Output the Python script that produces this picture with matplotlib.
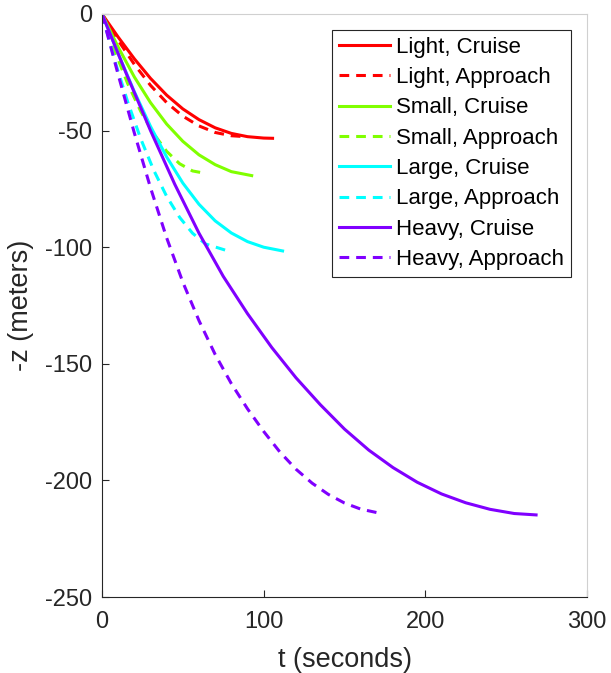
import matplotlib
matplotlib.use("Agg")
import matplotlib.pyplot as plt

plt.rcParams['font.family'] = ['Liberation Sans', 'DejaVu Sans']
plt.rcParams['lines.scale_dashes'] = False
plt.rcParams['axes.unicode_minus'] = False

# values, t in seconds, -z in meters
light_cruise_t = [0, 10, 20, 30, 40, 50, 60, 70, 80, 90, 100, 105.5]
light_cruise_z = [0, -9.9, -19.2, -27.6, -34.8, -40.7, -45.3, -48.8, -51.2, -52.6, -53.2, -53.3]
light_appr_t = [0, 10, 20, 30, 40, 50, 60, 70, 80, 86.5]
light_appr_z = [0, -11.3, -21.6, -30.6, -38, -43.8, -48, -50.8, -52.2, -52.5]

small_cruise_t = [0, 10, 20, 30, 40, 50, 60, 70, 80, 92.6]
small_cruise_z = [0, -14.2, -27, -38, -47.2, -54.6, -60.4, -64.6, -67.6, -69.3]
small_appr_t = [0, 8, 16, 24, 32, 40, 48, 56, 63.7]
small_appr_z = [0, -16.1, -30, -41.8, -51.4, -58.9, -64.2, -67.3, -68.3]

large_cruise_t = [0, 10, 20, 30, 40, 50, 60, 70, 80, 90, 100, 111.7]
large_cruise_z = [0, -17, -33.3, -48.2, -61.3, -72.5, -81.6, -88.7, -93.9, -97.6, -100, -101.6]
large_appr_t = [0, 8, 16, 24, 32, 40, 48, 56, 64, 76.5]
large_appr_z = [0, -20.2, -37.9, -53.6, -67, -78.2, -87.2, -94, -98.6, -101.3]

heavy_cruise_t = [0, 15, 30, 45, 60, 75, 90, 105, 120, 135, 150, 165, 180, 195, 210, 225, 240, 255, 268.5]
heavy_cruise_z = [0, -25.5, -50, -73, -94, -112.5, -128.5, -143, -156, -167.5, -178, -187, -194.5,
                  -200.8, -205.8, -209.6, -212.4, -214.2, -214.8]
heavy_appr_t = [0, 10, 20, 30, 40, 50, 60, 70, 80, 90, 100, 110, 120, 130, 140, 150, 160, 170]
heavy_appr_z = [0, -26, -51, -74.5, -96, -115, -131.5, -146, -158.5, -169.3, -179, -187.8, -195.2,
                -201.2, -206, -209.7, -212.3, -213.8]

names = ["Light", "Small", "Large", "Heavy"]
colors = [(1, 0, 0), (0.5, 1, 0), (0, 1, 1), (0.5, 0, 1)]
cruise = [(light_cruise_t, light_cruise_z), (small_cruise_t, small_cruise_z),
          (large_cruise_t, large_cruise_z), (heavy_cruise_t, heavy_cruise_z)]
approach = [(light_appr_t, light_appr_z), (small_appr_t, small_appr_z),
            (large_appr_t, large_appr_z), (heavy_appr_t, heavy_appr_z)]

fig = plt.figure(figsize=(6.11, 6.73), dpi=100)
ax = fig.add_axes([102 / 611, 1 - 597 / 673, 485 / 611, 583 / 673])

for name, col, cr, ap in zip(names, colors, cruise, approach):
    ax.plot(cr[0], cr[1], color=col, lw=2.2, label=name + ", Cruise")
    ax.plot(ap[0], ap[1], color=col, lw=2.2, dashes=(7, 5), label=name + ", Approach")

ax.set_xlim(0, 300)
ax.set_ylim(-250, 0)
ax.set_xticks([0, 100, 200, 300])
ax.set_yticks([-250, -200, -150, -100, -50, 0])
ax.tick_params(direction='in', length=5, width=0.8, colors='#262626', labelsize=17,
               labelcolor='#262626', top=False, right=False)
ax.tick_params(axis='x', pad=10)
ax.tick_params(axis='y', pad=7)
for s in ['left', 'bottom']:
    ax.spines[s].set_color('#262626')
    ax.spines[s].set_linewidth(0.8)
for s in ['top', 'right']:
    ax.spines[s].set_color('#d0d0d0')
    ax.spines[s].set_linewidth(0.8)

ax.set_xlabel("t (seconds)", fontsize=19.5, color='#262626', labelpad=10)
ax.set_ylabel("-z (meters)", fontsize=19.5, color='#262626', labelpad=8)

leg = ax.legend(loc='upper right', bbox_to_anchor=(571 / 611, 1 - 30 / 673),
                bbox_transform=fig.transFigure, borderaxespad=0, fontsize=16,
                handlelength=2.3, handletextpad=0.3, labelspacing=0.42,
                borderpad=0.3, fancybox=False, framealpha=1)
leg.get_frame().set_edgecolor('#262626')
leg.get_frame().set_linewidth(0.8)

fig.savefig("out.png", dpi=100)
